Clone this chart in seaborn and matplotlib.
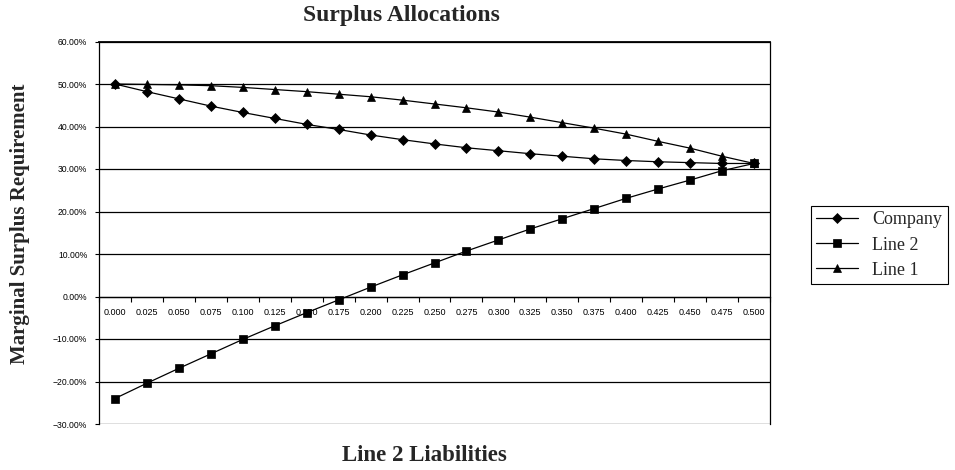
import numpy as np
import pandas as pd
import matplotlib
matplotlib.use("Agg")
import matplotlib.pyplot as plt
import seaborn as sns
from matplotlib.ticker import FixedLocator, PercentFormatter

# ---- data ----
x_labels = ["0.000", "0.025", "0.050", "0.075", "0.100", "0.125", "0.150", "0.175",
            "0.200", "0.225", "0.250", "0.275", "0.300", "0.325", "0.350", "0.375",
            "0.400", "0.425", "0.450", "0.475", "0.500"]
company = [50.0, 48.2, 46.5, 44.8, 43.3, 41.9, 40.5, 39.3, 38.0, 36.9, 35.9,
           35.0, 34.3, 33.6, 33.0, 32.4, 32.0, 31.7, 31.5, 31.3, 31.3]
line2 = [-24.0, -20.4, -16.9, -13.5, -10.1, -6.9, -3.8, -0.8, 2.2, 5.1, 7.9,
         10.7, 13.3, 15.9, 18.3, 20.7, 23.1, 25.3, 27.4, 29.6, 31.3]
line1 = [50.0, 49.9, 49.8, 49.6, 49.2, 48.7, 48.2, 47.6, 47.0, 46.2, 45.3,
         44.4, 43.4, 42.2, 40.9, 39.6, 38.2, 36.5, 34.9, 33.0, 31.3]
series_names = ["Company", "Line 2", "Line 1"]
y_ticks = [-30, -20, -10, 0, 10, 20, 30, 40, 50, 60]

pos = np.arange(len(x_labels))
df = pd.DataFrame({
    "pos": np.tile(pos, 3),
    "value": company + line2 + line1,
    "series": np.repeat(series_names, len(x_labels)),
})

sns.set_style("white")
plt.rcParams["font.family"] = ["Liberation Sans", "DejaVu Sans"]

fig = plt.figure(figsize=(9.55, 4.70), dpi=100)
ax = fig.add_axes([99 / 955, 1 - 424 / 470, (770 - 99) / 955, (424 - 41.5) / 470])

sns.lineplot(data=df, x="pos", y="value", hue="series", style="series",
             hue_order=series_names, style_order=series_names,
             palette={n: "black" for n in series_names},
             markers={"Company": "D", "Line 2": "s", "Line 1": "^"},
             dashes=False, linewidth=0.9, markersize=6,
             markeredgecolor="black", markeredgewidth=0.5,
             ax=ax, legend=True, zorder=3)
for l in ax.lines:
    if l.get_marker() == "D":
        l.set_markersize(5)

ax.set_xlim(-0.5, len(x_labels) - 0.5)
ax.set_ylim(-30, 60)
ax.yaxis.set_major_locator(FixedLocator(y_ticks))
ax.yaxis.set_major_formatter(PercentFormatter(decimals=2))
ax.grid(axis="y", color="black", linewidth=0.9)
ax.grid(axis="x", visible=False)
ax.set_axisbelow(True)

ax.spines["bottom"].set_position(("data", 0))
for s in ["left", "right", "top", "bottom"]:
    ax.spines[s].set_color("black")
    ax.spines[s].set_linewidth(0.9)
ax.spines["top"].set_linewidth(1.3)

ax.set_xticks(pos)
ax.set_xticklabels(x_labels)
ax.set_xticks(np.arange(-0.5, len(x_labels)), minor=True)
ax.tick_params(axis="x", which="major", length=0, pad=8, labelsize=6.5, colors="black")
ax.tick_params(axis="x", which="minor", length=3.5, width=0.8, direction="out",
               color="black", bottom=True)
ax.tick_params(axis="y", which="major", length=3, width=0.8, direction="out",
               left=True, labelsize=6.2, colors="black", pad=5.5)
ax.set_xlabel("")
ax.set_ylabel("")

serif = ["Liberation Serif", "DejaVu Serif"]
fig.text(401 / 955, 1 - 21 / 470, "Surplus Allocations", ha="center", va="baseline",
         fontsize=17, fontweight="bold", family=serif)
fig.text(20 / 955, 1 - 224 / 470, "Marginal Surplus Requirement", rotation=90,
         ha="center", va="center", fontsize=15, fontweight="bold", family=serif)
fig.text(424 / 955, 1 - 461 / 470, "Line 2 Liabilities", ha="center", va="baseline",
         fontsize=16.5, fontweight="bold", family=serif)

handles, labels = ax.get_legend_handles_labels()
leg = ax.legend(handles, labels, loc="upper left",
                bbox_to_anchor=(811 / 955, 1 - 206 / 470), bbox_transform=fig.transFigure,
                prop={"family": serif, "size": 13}, frameon=True, fancybox=False,
                edgecolor="black", framealpha=1, borderpad=0.3, labelspacing=0.45,
                handlelength=2.3, handletextpad=0.8, borderaxespad=0)
leg.get_frame().set_linewidth(0.8)

fig.savefig("out.png", dpi=100)
